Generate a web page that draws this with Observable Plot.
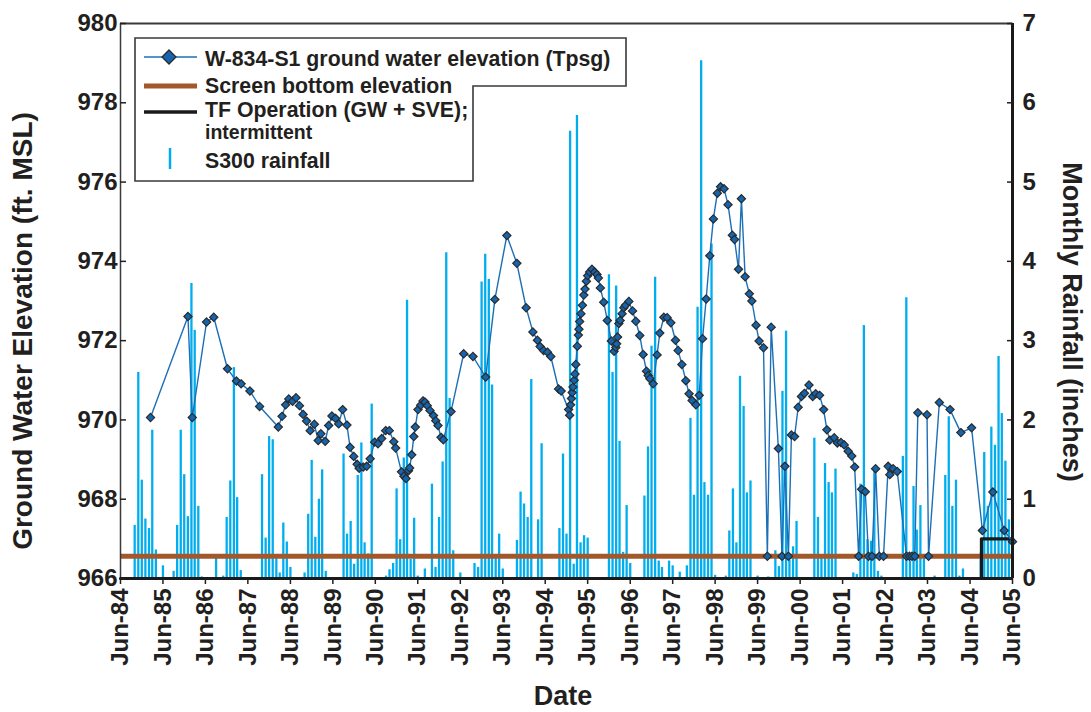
<!DOCTYPE html>
<html>
<head>
<meta charset="utf-8">
<script src="https://cdn.jsdelivr.net/npm/d3@7"></script>
<script src="https://cdn.jsdelivr.net/npm/@observablehq/plot@0.6"></script>
<style>
  body { margin: 0; background: #fff; }
  #chart { position: relative; width: 1091px; height: 712px; font-family: "Liberation Sans", Arial, Helvetica, sans-serif; }
  #overlay { position: absolute; left: 0; top: 0; pointer-events: none; }
</style>
</head>
<body>
<div id="chart"></div>
<script>
// ---- Data ---------------------------------------------------------------

// S300 monthly rainfall (inches); one row per season, June through May, from June 1984
const rainFirstMonth = "1984-06-01";
const rainfall = [
  [0, 0, 0, 0, 0.67, 2.60, 1.24, 0.75, 0.63, 1.87, 0.36, 0],
  [0.16, 0, 0, 0.09, 0.67, 1.87, 1.31, 0.78, 3.72, 3.13, 0.91, 0.02],
  [0, 0, 0, 0.30, 0, 0.03, 0.77, 1.23, 2.66, 1.02, 0.10, 0],
  [0, 0, 0, 0, 1.31, 0.51, 1.79, 1.75, 0.25, 0.07, 0.70, 0.46],
  [0.14, 0, 0, 0, 0.07, 0.81, 1.49, 0.52, 1.00, 1.37, 0.09, 0],
  [0, 0, 0, 1.57, 0.56, 0.72, 0.18, 1.30, 1.71, 0.45, 0.31, 2.20],
  [0, 0, 0, 0.03, 0.11, 0.19, 1.13, 0.49, 1.52, 3.51, 0.24, 0.76],
  [0.03, 0, 0.12, 0, 1.19, 0.14, 0.77, 1.47, 4.11, 2.27, 0.35, 0],
  [0.07, 0, 0, 0, 0.19, 0.14, 3.74, 4.09, 3.77, 2.44, 0.27, 0.56],
  [0.12, 0, 0, 0, 0.48, 1.09, 0.94, 0.77, 2.51, 0, 0.74, 1.70],
  [0, 0, 0, 0, 0.63, 1.57, 0.56, 5.64, 0.18, 5.84, 0.45, 0.54],
  [0.51, 0, 0, 0, 0, 0, 3.83, 2.60, 3.69, 1.73, 0.33, 0.92],
  [0.19, 0, 0, 0, 1.04, 1.66, 2.93, 3.80, 0.22, 0.14, 0, 0.22],
  [0.16, 0, 0.08, 0, 0.16, 2.02, 1.05, 3.42, 6.53, 1.21, 1.05, 4.22],
  [0.04, 0, 0, 0.03, 0.60, 1.13, 0.45, 2.55, 2.17, 1.08, 1.23, 0],
  [0.03, 0, 0, 0.02, 0, 0.35, 0.15, 2.36, 3.12, 0.23, 0.40, 0.72],
  [0, 0, 0, 0, 1.77, 0.77, 0.26, 1.45, 1.21, 1.08, 1.38, 0],
  [0, 0, 0, 0.07, 0.05, 1.19, 3.19, 0.49, 0.47, 1.40, 0.09, 0.03],
  [0, 0, 0, 0, 0, 1.54, 3.54, 0.22, 1.16, 0.61, 0.92, 0.25],
  [0, 0, 0.03, 0, 0, 1.30, 2.04, 0.91, 1.24, 0.03, 0.12, 0],
  [0, 0, 0, 0.32, 1.59, 0.91, 1.91, 1.68, 2.80, 2.08, 1.48, 0.74],
  [0.03]
];

// W-834-S1 ground water elevation (ft. MSL), Tpsg
const gwDates = [
  "1985-02-14","1986-01-02","1986-02-08","1986-06-11","1986-08-12","1986-12-08","1987-02-23","1987-04-04","1987-06-19","1987-09-10",
  "1988-02-18","1988-03-21","1988-04-21","1988-05-18","1988-06-20","1988-07-19","1988-08-18","1988-09-18","1988-10-18","1988-11-18",
  "1988-12-24","1989-01-26","1989-02-18","1989-03-27","1989-04-26","1989-05-24","1989-06-23","1989-07-21","1989-08-24","1989-09-30",
  "1989-10-27","1989-11-27","1989-12-27","1990-01-13","1990-02-17","1990-03-19","1990-04-18","1990-05-26","1990-06-24","1990-07-26",
  "1990-08-29","1990-09-29","1990-11-07","1990-11-23","1991-01-12","1991-02-02","1991-02-20","1991-03-13","1991-03-23","1991-04-10",
  "1991-04-28","1991-05-11","1991-06-03","1991-06-26","1991-07-16","1991-08-02","1991-08-22","1991-09-14","1991-10-14","1991-11-03",
  "1991-11-22","1991-12-18","1992-01-07","1992-03-13","1992-06-30","1992-09-18","1993-01-05","1993-03-25","1993-07-06","1993-09-30",
  "1993-12-19","1994-02-15","1994-03-26","1994-04-18","1994-05-18","1994-06-20","1994-07-19","1994-09-24","1994-10-16","1994-12-19",
  "1994-12-28","1995-01-05","1995-01-13","1995-01-19","1995-01-26","1995-02-05","1995-02-12","1995-02-19","1995-03-04","1995-03-13",
  "1995-03-18","1995-03-24","1995-04-04","1995-04-17","1995-04-29","1995-05-09","1995-05-21","1995-06-01","1995-06-18","1995-07-08",
  "1995-07-31","1995-08-20","1995-09-01","1995-09-18","1995-10-17","1995-11-17","1995-12-22","1996-01-14","1996-01-29","1996-02-05",
  "1996-02-13","1996-02-24","1996-03-06","1996-03-23","1996-04-07","1996-04-21","1996-05-20","1996-06-21","1996-07-19","1996-08-22",
  "1996-09-20","1996-10-19","1996-11-02","1996-11-17","1996-12-15","1997-01-18","1997-02-10","1997-03-17","1997-04-14","1997-05-16",
  "1997-06-25","1997-07-18","1997-08-19","1997-09-22","1997-10-20","1997-11-15","1997-12-17","1998-01-15","1998-02-13","1998-03-16",
  "1998-04-16","1998-05-17","1998-06-20","1998-07-18","1998-08-17","1998-09-20","1998-10-27","1998-11-15","1998-12-19","1999-01-13",
  "1999-02-14","1999-03-22","1999-04-13","1999-05-19","1999-06-14","1999-07-22","1999-08-24","1999-09-26","1999-11-27","1999-12-28",
  "2000-01-22","2000-02-21","2000-03-18","2000-04-14","2000-05-15","2000-06-12","2000-07-08","2000-08-16","2000-09-17","2000-10-13",
  "2000-11-15","2000-12-20","2001-01-17","2001-02-11","2001-03-21","2001-04-17","2001-05-18","2001-06-15","2001-07-19","2001-08-19",
  "2001-09-13","2001-10-17","2001-11-12","2001-12-13","2002-01-10","2002-02-09","2002-03-12","2002-04-13","2002-05-19","2002-06-28",
  "2002-07-12","2002-08-10","2002-09-14","2002-12-03","2002-12-28","2003-01-19","2003-02-12","2003-03-10","2003-05-28","2003-06-10",
  "2003-09-11","2003-12-12","2004-03-14","2004-06-14","2004-09-15","2004-12-14","2005-03-22","2005-06-01"
];
const gwElevation = [
  970.06, 972.61, 970.06, 972.47, 972.59, 971.29, 970.98, 970.91, 970.73, 970.34,
  969.82, 970.09, 970.38, 970.53, 970.47, 970.56, 970.36, 970.14, 969.97, 969.73,
  969.89, 969.48, 969.65, 969.46, 969.86, 970.10, 970.04, 969.90, 970.26, 969.87,
  969.31, 969.08, 968.88, 968.78, 968.81, 968.83, 969.02, 969.44, 969.40, 969.53,
  969.73, 969.73, 969.45, 969.29, 968.69, 968.58, 968.52, 968.72, 968.79, 969.12,
  969.58, 969.82, 970.26, 970.37, 970.48, 970.45, 970.36, 970.24, 970.11, 969.98,
  969.86, 969.56, 969.50, 970.21, 971.67, 971.60, 971.08, 973.04, 974.65, 973.95,
  972.83, 972.22, 972.01, 971.85, 971.75, 971.71, 971.60, 970.78, 970.73, 970.26,
  970.12, 970.38, 970.54, 970.69, 970.83, 971.00, 971.16, 971.40, 971.86, 972.14,
  972.29, 972.48, 972.68, 972.89, 973.15, 973.30, 973.50, 973.64, 973.73, 973.80,
  973.73, 973.67, 973.58, 973.33, 972.97, 972.51, 971.99, 971.73, 971.83, 971.92,
  972.09, 972.43, 972.51, 972.68, 972.83, 972.89, 972.99, 972.75, 972.49, 972.13,
  971.65, 971.23, 971.12, 971.04, 970.91, 971.64, 972.19, 972.59, 972.58, 972.45,
  972.01, 971.75, 971.40, 970.99, 970.66, 970.49, 970.38, 970.62, 972.05, 973.05,
  974.14, 975.07, 975.72, 975.88, 975.83, 975.43, 974.66, 974.55, 973.80, 975.58,
  973.61, 973.18, 973.00, 972.39, 971.99, 971.82, 966.56, 972.34, 969.28, 966.56,
  968.83, 966.56, 969.62, 969.58, 970.32, 970.59, 970.67, 970.88, 970.59, 970.66,
  970.62, 970.26, 969.75, 969.49, 969.55, 969.42, 969.43, 969.37, 969.21, 969.09,
  968.81, 966.56, 968.25, 968.19, 966.56, 966.56, 968.77, 966.56, 966.56, 968.83,
  968.62, 968.77, 968.70, 966.56, 966.56, 966.56, 966.56, 970.18, 970.13, 966.56,
  970.44, 970.26, 969.68, 969.80, 967.21, 968.18, 967.21, 966.93
];

// Screen bottom elevation (ft. MSL)
const screenBottom = [966.56];

// Treatment facility operation: off, then on (intermittent) from September 2004
const tfDates = ["1984-06-01", "2004-09-07", "2005-06-01"];
const tfLevel = [966, 967, 967];

// Axes
const dateDomain = ["1984-06-01", "2005-06-01"];
const dateTicks = [
  "1984-06-01","1985-06-01","1986-06-01","1987-06-01","1988-06-01","1989-06-01","1990-06-01",
  "1991-06-01","1992-06-01","1993-06-01","1994-06-01","1995-06-01","1996-06-01","1997-06-01",
  "1998-06-01","1999-06-01","2000-06-01","2001-06-01","2002-06-01","2003-06-01","2004-06-01","2005-06-01"
];
const elevationTicks = [966, 968, 970, 972, 974, 976, 978, 980];
const rainTicks = [0, 1, 2, 3, 4, 5, 6, 7];

// ---- Build tables -------------------------------------------------------

const parse = s => new Date(s + "T00:00:00Z");
const firstMonth = parse(rainFirstMonth);
const rain = rainfall.flat()
  .map((inches, i) => ({date: d3.utcMonth.offset(firstMonth, i), inches}))
  .filter(d => d.inches > 0);
const gw = gwDates.map((d, i) => ({date: parse(d), elev: gwElevation[i]}));
const tf = tfDates.map((d, i) => ({date: parse(d), elev: tfLevel[i]}));
const [xStart, xEnd] = dateDomain.map(parse);

// Rainfall shares the vertical axis: 0–7 inches spans 966–980 ft.
const rainToElev = d3.scaleLinear([0, 7], [966, 980]);

const ink = "#231f20";
const rainBlue = "#00AEEF";
const gwLine = "#1C6FB6";
const gwFill = "#1565AE";
const screenBrown = "#A3582B";

const chart = Plot.plot({
  width: 1091,
  height: 712,
  marginTop: 23,
  marginLeft: 120,
  marginRight: 79,
  marginBottom: 134,
  style: {
    fontFamily: '"Liberation Sans", Arial, Helvetica, sans-serif',
    fontWeight: "bold",
    fontSize: "24px",
    color: ink,
    background: "white",
    overflow: "visible"
  },
  x: {type: "utc", domain: [xStart, xEnd]},
  y: {domain: [966, 980]},
  marks: [
    // monthly rainfall columns
    Plot.ruleX(rain, {x: "date", y1: rainToElev(0), y2: d => rainToElev(d.inches), stroke: rainBlue, strokeWidth: 2.3}),
    // screen bottom elevation
    Plot.ruleY(screenBottom, {stroke: screenBrown, strokeWidth: 5}),
    // treatment facility operation
    Plot.line(tf, {x: "date", y: "elev", curve: "step-after", stroke: "#1a1a1a", strokeWidth: 3.2}),
    // ground water elevation
    Plot.line(gw, {x: "date", y: "elev", stroke: gwLine, strokeWidth: 1.4}),
    Plot.dot(gw, {x: "date", y: "elev", symbol: "diamond2", r: 3.7, fill: gwFill, stroke: "#2a2a2a", strokeWidth: 1.2}),
    // plot frame
    Plot.ruleY([980], {stroke: "#3a3a3a", strokeWidth: 2}),
    Plot.ruleX([xStart], {stroke: "#3a3a3a", strokeWidth: 1.5}),
    Plot.ruleX([xEnd], {stroke: "#1a1a1a", strokeWidth: 3}),
    Plot.ruleY([966], {stroke: "#1a1a1a", strokeWidth: 3}),
    // axes
    Plot.axisX({
      ticks: dateTicks.map(parse),
      tickFormat: d3.utcFormat("%b-%y"),
      tickRotate: -90,
      tickSize: 6,
      tickPadding: 4,
      strokeWidth: 1.5,
      label: null
    }),
    Plot.axisY({anchor: "left", ticks: elevationTicks, tickSize: -6, tickPadding: 9, strokeWidth: 1.5, label: null}),
    Plot.axisY({
      anchor: "right",
      ticks: rainTicks.map(rainToElev),
      tickFormat: d => String(Math.round(rainToElev.invert(d))),
      tickSize: -6,
      tickPadding: 16,
      strokeWidth: 1.5,
      label: null
    })
  ]
});

const container = document.getElementById("chart");
container.appendChild(chart);

// ---- Legend and axis titles -------------------------------------------

const svg = d3.select(container).append("svg")
  .attr("id", "overlay")
  .attr("width", 1091)
  .attr("height", 712)
  .style("font-family", '"Liberation Sans", Arial, Helvetica, sans-serif')
  .style("font-weight", "bold")
  .attr("fill", ink);

// legend box, stepped to fit the longer first entry
svg.append("path")
  .attr("d", "M135,38 H626 V86 H473 V181 H135 Z")
  .attr("fill", "white")
  .attr("stroke", "#3a3a3a")
  .attr("stroke-width", 1.6);

const legendText = (x, y, s, size = 21.3) =>
  svg.append("text").attr("x", x).attr("y", y).attr("font-size", size).text(s);

svg.append("line").attr("x1", 144).attr("x2", 197).attr("y1", 57).attr("y2", 57)
  .attr("stroke", gwLine).attr("stroke-width", 1.6);
svg.append("path").attr("d", "M169,50 L176,57 L169,64 L162,57 Z")
  .attr("fill", gwFill).attr("stroke", "#2a2a2a").attr("stroke-width", 1.3);
legendText(205, 66, "W-834-S1 ground water elevation (Tpsg)");

svg.append("line").attr("x1", 144).attr("x2", 197).attr("y1", 86).attr("y2", 86)
  .attr("stroke", screenBrown).attr("stroke-width", 5);
legendText(205, 92.5, "Screen bottom elevation");

svg.append("line").attr("x1", 144).attr("x2", 197).attr("y1", 112).attr("y2", 112)
  .attr("stroke", "#1a1a1a").attr("stroke-width", 3.5);
legendText(205, 116.5, "TF Operation (GW + SVE);");
legendText(205, 139, "intermittent", 19.5);

svg.append("line").attr("x1", 170).attr("x2", 170).attr("y1", 148).attr("y2", 169)
  .attr("stroke", rainBlue).attr("stroke-width", 2.5);
legendText(205, 167.5, "S300 rainfall");

// axis titles
svg.append("text")
  .attr("transform", "translate(32,331) rotate(-90)")
  .attr("text-anchor", "middle")
  .attr("font-size", 28)
  .text("Ground Water Elevation (ft. MSL)");

svg.append("text")
  .attr("transform", "translate(1063,322) rotate(90)")
  .attr("text-anchor", "middle")
  .attr("font-size", 27)
  .text("Monthly Rainfall (inches)");

svg.append("text")
  .attr("x", 563)
  .attr("y", 705)
  .attr("text-anchor", "middle")
  .attr("font-size", 27)
  .text("Date");
</script>
</body>
</html>
